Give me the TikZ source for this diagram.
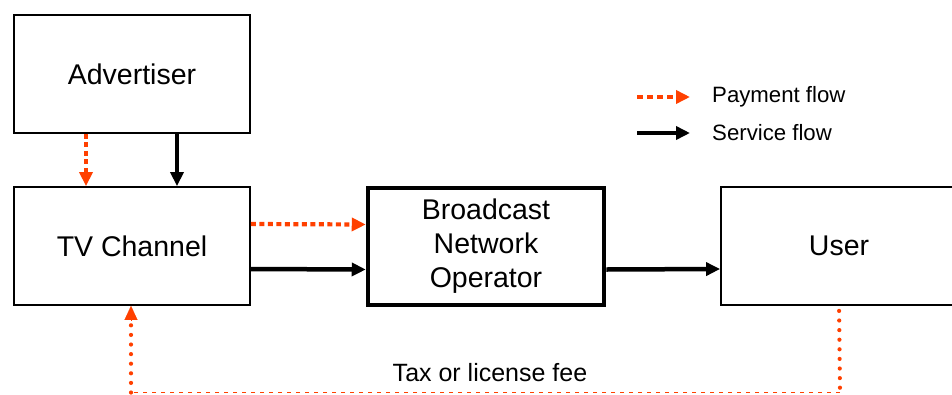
\documentclass[tikz,border=0pt]{standalone}
\usepackage{fontspec}
\setmainfont{Liberation Sans}
\usetikzlibrary{arrows.meta}
\definecolor{payred}{RGB}{255,64,0}
\tikzset{
  box/.style={draw=black, line width=1.8pt, minimum width=236pt, minimum height=118pt,
    inner sep=0pt, font=\fontsize{28.5}{34}\selectfont, align=center},
  bigbox/.style={box, line width=4.5pt, minimum width=236pt, minimum height=117pt},
  svc/.style={line width=4.5pt, black, -{Triangle[length=14pt,width=13pt]}},
  pay/.style={line width=4.2pt, payred, dash pattern=on 5pt off 3.5pt,
    -{Triangle[length=14pt,width=13pt]}},
  fee/.style={line width=4.2pt, payred, line cap=round, dash pattern=on 0pt off 9.6pt},
  feeline/.style={line width=1pt, payred, dash pattern=on 4.5pt off 4.5pt},
  legend/.style={anchor=west, inner sep=0pt, font=\fontsize{22.2}{26}\selectfont},
}
\begin{document}
\begin{tikzpicture}[x=1pt, y=-1pt]
  \clip (0,0) rectangle (952,394);
  \fill[white] (0,0) rectangle (952,394);

  % parties
  \node[box] (adv) at (132,74) {Advertiser};
  \node[box] (tv) at (132,246) {TV Channel};
  \node[bigbox] (bno) at (486,246.5) {Broadcast\\Network\\Operator};
  \node[box] (user) at (839,246) {User};

  % advertiser to channel
  \draw[pay] ([xshift=-46pt]adv.south) -- ([xshift=-46pt]tv.north);
  \draw[svc] ([xshift=45pt]adv.south) -- ([xshift=45pt]tv.north);

  % channel to network operator
  \draw[pay] ([yshift=22pt]tv.east) -- ([yshift=22pt]bno.west);
  \draw[svc] ([yshift=-23pt]tv.east) -- ([yshift=-23pt]bno.west);

  % network operator to user
  \draw[svc] ([yshift=-23pt]bno.east) -- ([yshift=-23pt]user.west);

  % tax or licence fee from user back to channel
  \coordinate (feeR) at (840,392.5);
  \coordinate (feeL) at (131,392.5);
  \draw[fee] ([xshift=119pt, yshift=-5pt]user.south west) -- (feeR);
  \draw[feeline] (feeR) -- (feeL);
  \draw[fee] (feeL) -- ([yshift=-14pt]feeL |- tv.south);
  \draw[payred, -{Triangle[length=14pt,width=13pt]}, line width=0.1pt]
    ([yshift=-14.1pt]feeL |- tv.south) -- (feeL |- tv.south);
  \node[inner sep=0pt, font=\fontsize{25}{30}\selectfont] (feetext) at (490,373) {Tax or license fee};

  % legend
  \coordinate (lp1) at (637,97);
  \coordinate (lp2) at (690,97);
  \coordinate (ls1) at (637,133);
  \coordinate (ls2) at (690,133);
  \draw[pay, dash pattern=on 6pt off 4pt] (lp1) -- (lp2);
  \draw[svc] (ls1) -- (ls2);
  \node[legend] (lpay) at (712,97) {Payment flow};
  \node[legend] (lsvc) at (712,133) {Service flow};
\end{tikzpicture}
\end{document}
